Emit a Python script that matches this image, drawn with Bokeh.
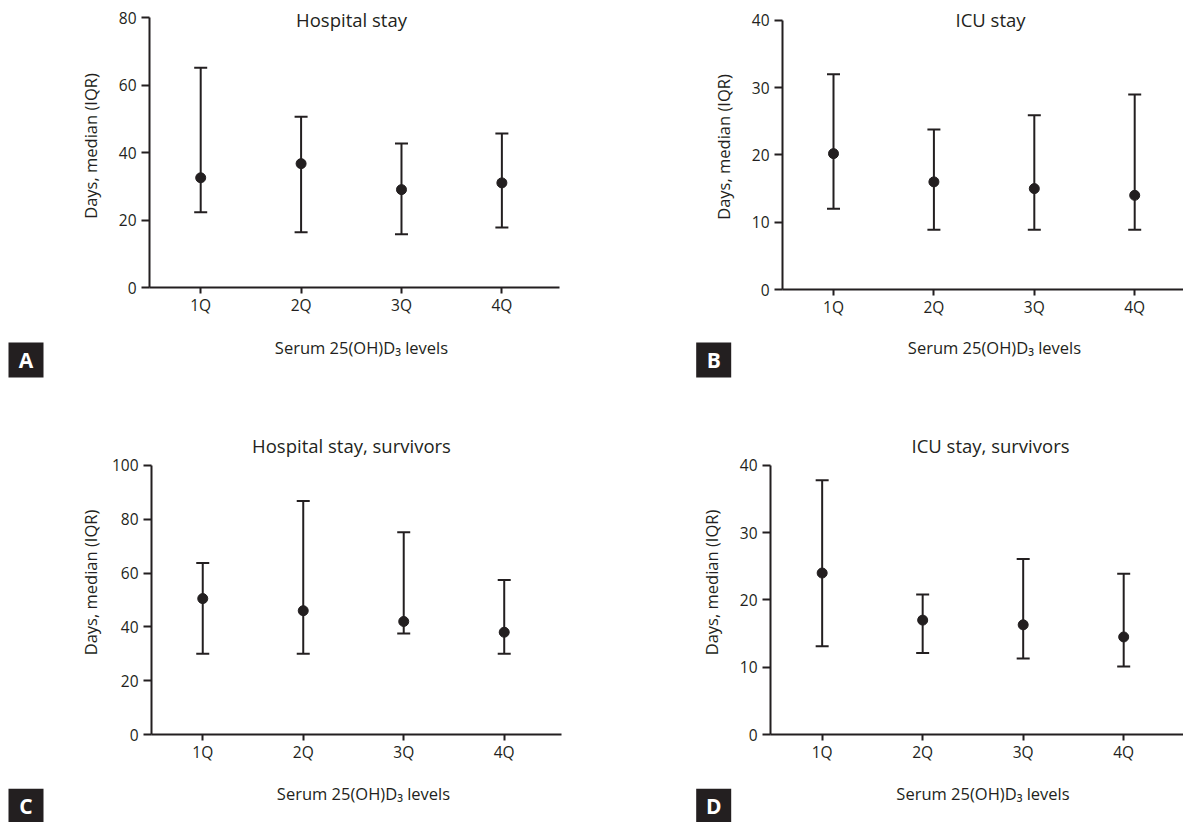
from bokeh.plotting import figure
from bokeh.models import FixedTicker, Range1d, Label, BoxAnnotation
from bokeh.layouts import column, row
from bokeh.embed import file_html
from bokeh.resources import INLINE

# ---------------- data ----------------
categories = ["1Q", "2Q", "3Q", "4Q"]
x_label = "Serum 25(OH)D\u2083 levels"
y_label = "Days, median (IQR)"

hosp_median = [32.5, 36.7, 29.0, 31.0]
hosp_q1 = [22.3, 16.4, 15.8, 17.8]
hosp_q3 = [65.1, 50.6, 42.7, 45.6]

icu_median = [20.2, 16.0, 15.0, 14.0]
icu_q1 = [12.0, 8.9, 8.9, 8.9]
icu_q3 = [32.0, 23.8, 25.9, 29.0]

hosp_surv_median = [50.5, 46.0, 42.0, 38.0]
hosp_surv_q1 = [30.0, 30.0, 37.5, 30.0]
hosp_surv_q3 = [63.7, 86.8, 75.2, 57.4]

icu_surv_median = [24.0, 17.0, 16.3, 14.5]
icu_surv_q1 = [13.1, 12.1, 11.3, 10.1]
icu_surv_q3 = [37.8, 20.8, 26.1, 23.9]

titles = ["Hospital stay", "ICU stay", "Hospital stay, survivors", "ICU stay, survivors"]
letters = ["A", "B", "C", "D"]
y_maxes = [80, 40, 100, 40]
y_steps = [20, 10, 20, 10]

INK = "#231f20"
FONT = "Open Sans"
AXIS_PX = 270  # pixel height of the 0..y_max span


def panel(title, median, q1, q3, y_max, y_step,
          width, mb_left, mb_right, mb_top, frame_h, mb_bottom,
          x_start, x_end, title_pos, ylab_standoff):
    xs = list(range(1, len(categories) + 1))
    y_end = y_max * frame_h / AXIS_PX
    p = figure(width=width, height=mb_top + frame_h + mb_bottom,
               output_backend="svg", toolbar_location=None, frame_align=False,
               x_range=Range1d(x_start, x_end), y_range=Range1d(0, y_end),
               min_border_left=mb_left, min_border_right=mb_right,
               min_border_top=mb_top, min_border_bottom=mb_bottom)
    p.outline_line_color = None
    p.grid.visible = False
    p.background_fill_color = "white"
    p.border_fill_color = "white"

    p.xaxis.ticker = FixedTicker(ticks=xs)
    p.xaxis.major_label_overrides = {x: c for x, c in zip(xs, categories)}
    p.yaxis.ticker = FixedTicker(ticks=list(range(0, y_max + 1, y_step)))
    p.yaxis.bounds = (0, y_max)

    for ax in (p.xaxis[0], p.yaxis[0]):
        ax.axis_line_color = INK
        ax.axis_line_width = 2
        ax.major_tick_line_color = INK
        ax.major_tick_line_width = 2
        ax.major_tick_in = 0
        ax.minor_tick_line_color = None
        ax.major_label_text_font = FONT
        ax.major_label_text_font_size = "15.5px"
        ax.major_label_text_color = INK
        ax.axis_label_text_font = FONT
        ax.axis_label_text_font_size = "16.5px"
        ax.axis_label_text_font_style = "normal"
        ax.axis_label_text_color = INK
    p.xaxis.major_tick_out = 6
    p.xaxis.major_label_standoff = 0
    p.yaxis.major_tick_out = 8
    p.yaxis.major_label_standoff = 5
    p.yaxis.axis_label = y_label
    p.yaxis.axis_label_standoff = ylab_standoff

    p.segment(x0=xs, y0=q1, x1=xs, y1=q3, line_color=INK, line_width=2)
    p.scatter(xs, q3, marker="dash", size=13, line_color=INK, line_width=2)
    p.scatter(xs, q1, marker="dash", size=13, line_color=INK, line_width=2)
    p.scatter(xs, median, marker="circle", size=10, fill_color=INK,
              line_color=INK, line_width=1)

    tx, ty = title_pos
    p.add_layout(Label(x=tx, y=ty, x_units="screen", y_units="screen",
                       text=title, text_font=FONT, text_font_size="18.5px",
                       text_color=INK, text_align="center",
                       text_baseline="middle"))
    return p


def strip(width, height, letter, xlab_pos, box):
    s = figure(width=width, height=height, output_backend="svg",
               toolbar_location=None, x_axis_type=None, y_axis_type=None,
               frame_align=False,
               x_range=Range1d(0, 1), y_range=Range1d(0, 1),
               min_border=0, min_border_left=0, min_border_right=0,
               min_border_top=0, min_border_bottom=0)
    s.outline_line_color = None
    s.background_fill_color = "white"
    s.border_fill_color = "white"
    lx, ly = xlab_pos
    s.add_layout(Label(x=lx, y=ly, x_units="screen", y_units="screen",
                       text=x_label, text_font=FONT, text_font_size="16.5px",
                       text_color=INK, text_align="center", text_baseline="middle"))
    l, r, t, b = box
    s.add_layout(BoxAnnotation(left=l, right=r, top=t, bottom=b,
                               left_units="screen", right_units="screen",
                               top_units="screen", bottom_units="screen",
                               fill_color=INK, fill_alpha=1.0,
                               line_color=INK, line_alpha=1.0, line_width=0))
    s.add_layout(Label(x=(l + r) / 2, y=(t + b) / 2, x_units="screen", y_units="screen",
                       text=letter, text_font=FONT, text_font_size="21px",
                       text_font_style="bold", text_color="white",
                       text_align="center", text_baseline="middle"))
    return s


# top row: page y 0..400 (main 0..320, strip 320..400)
pA = panel(titles[0], hosp_median, hosp_q1, hosp_q3, y_maxes[0], y_steps[0],
           width=640, mb_left=149, mb_right=81, mb_top=4, frame_h=283, mb_bottom=33,
           x_start=0.49, x_end=4.574, title_pos=(202, 268.2), ylab_standoff=14)
sA = strip(640, 80, letters[0], (361, 53), (8, 43, 58, 23))

pB = panel(titles[1], icu_median, icu_q1, icu_q3, y_maxes[1], y_steps[1],
           width=543, mb_left=142, mb_right=0, mb_top=4, frame_h=286, mb_bottom=30,
           x_start=0.492, x_end=4.486, title_pos=(208, 270), ylab_standoff=14)
sB = strip(543, 80, letters[1], (354, 53), (55.7, 90.7, 58, 23))

# bottom row: page y 400..822 (main 400..765, strip 765..822)
pC = panel(titles[2], hosp_surv_median, hosp_surv_q1, hosp_surv_q3,
           y_maxes[2], y_steps[2],
           width=640, mb_left=151, mb_right=79, mb_top=30, frame_h=305, mb_bottom=30,
           x_start=0.49, x_end=4.57, title_pos=(200, 288.7), ylab_standoff=7)
sC = strip(640, 57, letters[2], (363, 29.3), (8, 43, 33.7, -1.3))

pD = panel(titles[3], icu_surv_median, icu_surv_q1, icu_surv_q3,
           y_maxes[3], y_steps[3],
           width=543, mb_left=130, mb_right=0, mb_top=30, frame_h=305, mb_bottom=30,
           x_start=0.486, x_end=4.595, title_pos=(220, 289), ylab_standoff=14)
sD = strip(543, 57, letters[3], (342.5, 29.3), (55.7, 90.7, 33.7, -1.3))

layout = column(row(column(pA, sA), column(pB, sB)),
                row(column(pC, sC), column(pD, sD)))
open("out.html", "w").write(file_html(layout, INLINE))
